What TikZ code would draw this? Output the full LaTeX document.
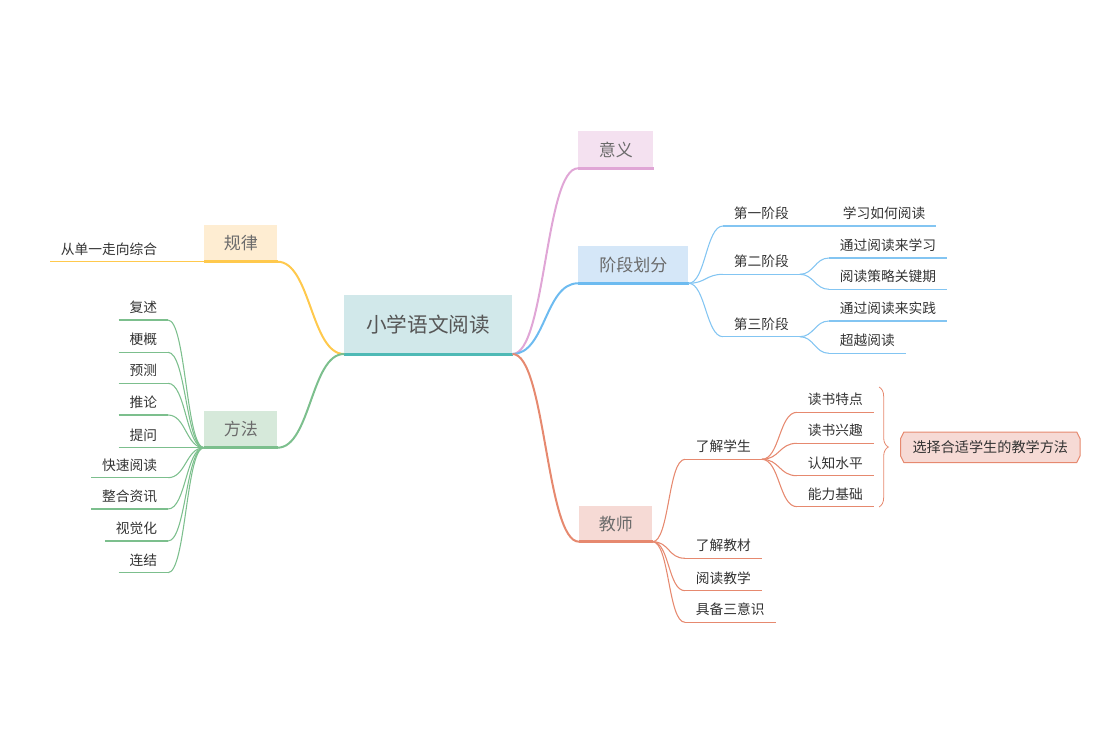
\documentclass[tikz,border=0pt]{standalone}
\usepackage{fontspec}
\setmainfont{Noto Sans CJK SC}
\usepackage{xcolor}
\usetikzlibrary{decorations.pathreplacing, backgrounds}
\definecolor{rootFill}{HTML}{D1E8EA}
\definecolor{rootLine}{HTML}{4EB9B5}
\definecolor{pinkFill}{HTML}{F4E1F0}
\definecolor{pinkLine}{HTML}{E0A6D6}
\definecolor{blueFill}{HTML}{D5E7F8}
\definecolor{blueLine}{HTML}{6DBBF0}
\definecolor{yellowFill}{HTML}{FEEDD2}
\definecolor{yellowLine}{HTML}{FFC94D}
\definecolor{greenFill}{HTML}{D6E9DA}
\definecolor{greenLine}{HTML}{7CBF8D}
\definecolor{redFill}{HTML}{F6DAD5}
\definecolor{redLine}{HTML}{E6896F}
\definecolor{topicText}{HTML}{6B6B6B}
\definecolor{leafText}{HTML}{333333}

\tikzset{
    topic/.style={fill=#1, anchor=south west, inner sep=0pt, text=topicText,
        font=\fontsize{12.75}{14}\selectfont},
    leaf/.style={inner xsep=8pt, inner ysep=3.5pt, text height=9pt, text depth=2pt,
        text=leafText, font=\fontsize{10.3}{12}\selectfont},
    swoop/.style={to path={.. controls +(#1,0) and +(-#1,0) .. (\tikztotarget)}},
}

\begin{document}
\begin{tikzpicture}[x=0.75pt, y=-0.75pt]
    \useasboundingbox (0,0) rectangle (1100,750);

    % centre and main topics
    \node[fill=rootFill, anchor=south west, minimum width=126pt, minimum height=44.25pt,
        text=topicText!80!black, font=\fontsize{15.5}{17}\selectfont] (root) at (344,354) {小学语文阅读};
    \node[topic=pinkFill, minimum width=56.25pt, minimum height=27.5pt] (meaning) at (578,168.3) {意义};
    \node[topic=blueFill, minimum width=82.5pt, minimum height=27.5pt] (stages) at (578,283.3) {阶段划分};
    \node[topic=redFill, minimum width=54.75pt, minimum height=26.8pt] (teacher) at (579,541.7) {教师};
    \node[topic=yellowFill, minimum width=54.75pt, minimum height=27.5pt] (rule) at (204,261.7) {规律};
    \node[topic=greenFill, minimum width=54.75pt, minimum height=27pt] (method) at (204,447.7) {方法};

    \draw[rootLine, line width=2.25pt] (root.south west) -- (root.south east);
    \foreach \n/\c in {meaning/pinkLine, stages/blueLine, teacher/redLine, rule/yellowLine, method/greenLine}
        \draw[\c, line width=2pt] (\n.south west) -- (\n.south east);

    \draw[pinkLine, line width=1.5pt] (root.south east) to[swoop=33] (meaning.south west);
    \draw[blueLine, line width=1.5pt] (root.south east) to[swoop=33] (stages.south west);
    \draw[redLine, line width=1.5pt] (root.south east) to[swoop=33] (teacher.south west);
    \draw[yellowLine, line width=1.5pt] (rule.south east) to[swoop=33] (root.south west);
    \draw[greenLine, line width=1.5pt] (method.south east) to[swoop=33] (root.south west);

    % stages
    \node[leaf, anchor=south west] (st1) at (723,226) {第一阶段};
    \node[leaf, anchor=south west] (st2) at (723,274.3) {第二阶段};
    \node[leaf, anchor=south west] (st3) at (723,336.7) {第三阶段};
    \node[leaf, anchor=south west] (st1a) at (832,226) {学习如何阅读};
    \node[leaf, anchor=south west] (st2a) at (829,258) {通过阅读来学习};
    \node[leaf, anchor=south west] (st2b) at (829,289.3) {阅读策略关键期};
    \node[leaf, anchor=south west] (st3a) at (829,321) {通过阅读来实践};
    \node[leaf, anchor=south west] (st3b) at (829,353.3) {超越阅读};
    \foreach \n in {st1, st2, st3, st1a, st2a, st2b, st3a, st3b}
        \draw[blueLine!85, line width=0.8pt] (\n.south west) -- (\n.south east);
    \foreach \n in {st1, st2, st3}
        \draw[blueLine!85, line width=0.8pt] (stages.south east) to[swoop=17] (\n.south west);
    \draw[blueLine!85, line width=0.8pt] (st1.south east) -- (st1a.south west);
    \foreach \n in {st2a, st2b}
        \draw[blueLine!85, line width=0.8pt] (st2.south east) to[swoop=14] (\n.south west);
    \foreach \n in {st3a, st3b}
        \draw[blueLine!85, line width=0.8pt] (st3.south east) to[swoop=14] (\n.south west);

    % teacher
    \node[leaf, anchor=south west] (know) at (685,459.3) {了解学生};
    \node[leaf, anchor=south west] (book) at (685,558.3) {了解教材};
    \node[leaf, anchor=south west] (teach) at (685,590.7) {阅读教学};
    \node[leaf, anchor=south west] (aware) at (685,622.3) {具备三意识};
    \node[leaf, anchor=south west] (kn1) at (797,412.3) {读书特点};
    \node[leaf, anchor=south west] (kn2) at (797,443.3) {读书兴趣};
    \node[leaf, anchor=south west] (kn3) at (797,475.7) {认知水平};
    \node[leaf, anchor=south west] (kn4) at (797,506.7) {能力基础};
    \foreach \n in {know, book, teach, aware, kn1, kn2, kn3, kn4}
        \draw[redLine, line width=0.8pt] (\n.south west) -- (\n.south east);
    \foreach \n in {know, book, teach, aware}
        \draw[redLine, line width=0.8pt] (teacher.south east) to[swoop=17] (\n.south west);
    \foreach \n in {kn1, kn2, kn3, kn4}
        \draw[redLine, line width=0.8pt] (know.south east) to[swoop=18] (\n.south west);

    \coordinate (bracetop) at (879,387);
    \coordinate (bracebot) at (879,507);
    \draw[redLine, line width=0.6pt, decorate, decoration={brace, amplitude=7pt}]
        (bracetop) -- (bracebot);
    \node[inner sep=0pt, minimum width=134.25pt, minimum height=22.5pt, text=leafText,
        font=\fontsize{10.6}{13}\selectfont] (choose) at (990.3,447.3) {选择合适学生的教学方法};
    \begin{pgfonlayer}{background}
        \draw[redLine, fill=redFill, line width=0.75pt]
            ([xshift=2.5pt]choose.north west) -- ([xshift=-2.5pt]choose.north east)
            -- ([yshift=-5pt]choose.north east) -- ([yshift=5pt]choose.south east)
            -- ([xshift=-2.5pt]choose.south east) -- ([xshift=2.5pt]choose.south west)
            -- ([yshift=5pt]choose.south west) -- ([yshift=-5pt]choose.north west) -- cycle;
    \end{pgfonlayer}

    % rule
    \node[leaf, anchor=south east] (single) at (168,261.7) {从单一走向综合};
    \draw[yellowLine, line width=0.8pt] (single.south west) -- (single.south east) -- (rule.south west);

    % method
    \foreach \n/\y/\t in {m1/320/复述, m2/352.3/梗概, m3/383.3/预测, m4/415/推论, m5/447.7/提问,
        m6/477.7/快速阅读, m7/509/整合资讯, m8/541/视觉化, m9/572.7/连结} {
        \node[leaf, anchor=south east] (\n) at (168,\y) {\t};
        \draw[greenLine, line width=0.8pt] (\n.south west) -- (\n.south east);
        \draw[greenLine, line width=0.8pt] (\n.south east) to[swoop=18] (method.south west);
    }
\end{tikzpicture}
\end{document}
